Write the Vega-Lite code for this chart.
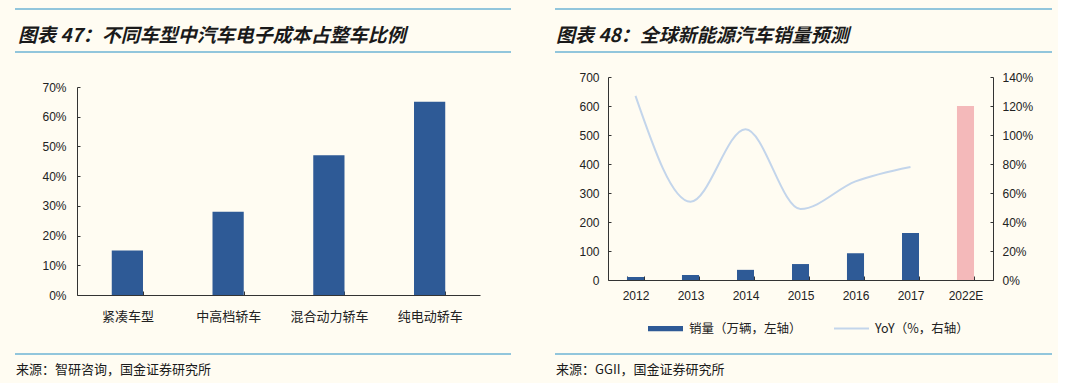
{
  "$schema": "https://vega.github.io/schema/vega-lite/v6.json",
  "background": "#FFFCF2",
  "padding": {"left": 14, "top": 8, "right": 5, "bottom": 0},
  "config": {
    "view": {"stroke": null},
    "axis": {
      "grid": false,
      "domainColor": "#333333",
      "tickColor": "#333333",
      "labelColor": "#222222",
      "labelFont": "Liberation Sans",
      "labelFontSize": 12,
      "title": null
    }
  },
  "resolve": {"legend": {"color": "independent"}, "scale": {"color": "independent"}},
  "hconcat": [
    {
      "spacing": 28,
      "vconcat": [
        {
          "width": 403,
          "height": 43,
          "data": {"values": [{"label": "图表 47：不同车型中汽车电子成本占整车比例"}]},
          "encoding": {
            "x": {"datum": -62, "type": "quantitative", "scale": {"domain": [0, 403], "nice": false, "zero": false}, "axis": null}
          },
          "layer": [
            {"mark": {"type": "rule", "color": "#92C6DC", "strokeWidth": 2},
             "encoding": {"x2": {"datum": 434}, "y": {"datum": 1, "type": "quantitative", "scale": {"domain": [0, 1]}, "axis": null}}},
            {"mark": {"type": "rule", "color": "#92C6DC", "strokeWidth": 2},
             "encoding": {"x2": {"datum": 434}, "y": {"datum": 0, "type": "quantitative", "axis": null}}},
            {"mark": {"type": "text", "align": "left", "baseline": "middle", "font": "Noto Sans CJK SC", "fontSize": 19, "fontWeight": "bold", "fontStyle": "italic", "color": "#1a1a1a", "dx": 3},
             "encoding": {
               "text": {"field": "label"},
               "y": {"datum": 0.37, "type": "quantitative", "axis": null}
             }}
          ]
        },
        {
          "spacing": 30,
          "vconcat": [
            {
              "width": 403,
              "height": 208,
              "data": {"values": [
                {"type": "紧凑车型", "share": 0.15},
                {"type": "中高档轿车", "share": 0.28},
                {"type": "混合动力轿车", "share": 0.47},
                {"type": "纯电动轿车", "share": 0.65}
              ]},
              "mark": {"type": "bar", "color": "#2E5A96"},
              "encoding": {
                "x": {"field": "type", "type": "nominal", "sort": null,
                      "scale": {"paddingInner": 0.69, "paddingOuter": 0.345},
                      "axis": {"labelAngle": 0, "tickBand": "extent", "tickSize": -4, "labelFont": "Noto Sans CJK SC", "labelFontSize": 13, "labelPadding": 19}},
                "y": {"field": "share", "type": "quantitative",
                      "scale": {"domain": [0, 0.7]},
                      "axis": {"format": ".0%", "values": [0, 0.1, 0.2, 0.3, 0.4, 0.5, 0.6, 0.7], "tickSize": -3, "labelPadding": 14, "minExtent": 62}}
              }
            },
            {
              "width": 403,
              "height": 32,
              "data": {"values": [{"label": "来源：智研咨询，国金证券研究所"}]},
              "encoding": {
                "x": {"datum": -62, "type": "quantitative", "scale": {"domain": [0, 403], "nice": false, "zero": false}, "axis": null}
              },
              "layer": [
                {"mark": {"type": "rule", "color": "#92C6DC", "strokeWidth": 2},
                 "encoding": {"x2": {"datum": 434}, "y": {"datum": 1, "type": "quantitative", "scale": {"domain": [0, 1]}, "axis": null}}},
                {"mark": {"type": "text", "align": "left", "baseline": "middle", "font": "Noto Sans CJK SC", "fontSize": 13, "color": "#1a1a1a", "dx": 1},
                 "encoding": {
                   "text": {"field": "label"},
                   "y": {"datum": 0.5, "type": "quantitative", "axis": null}
                 }}
              ]
            }
          ]
        }
      ]
    },
    {
      "spacing": 18,
      "resolve": {"legend": {"color": "independent"}, "scale": {"color": "independent"}},
      "vconcat": [
        {
          "width": 385,
          "height": 43,
          "data": {"values": [{"label": "图表 48：全球新能源汽车销量预测"}]},
          "encoding": {
            "x": {"datum": -53, "type": "quantitative", "scale": {"domain": [0, 385], "nice": false, "zero": false}, "axis": null}
          },
          "layer": [
            {"mark": {"type": "rule", "color": "#92C6DC", "strokeWidth": 2},
             "encoding": {"x2": {"datum": 444}, "y": {"datum": 1, "type": "quantitative", "scale": {"domain": [0, 1]}, "axis": null}}},
            {"mark": {"type": "rule", "color": "#92C6DC", "strokeWidth": 2},
             "encoding": {"x2": {"datum": 444}, "y": {"datum": 0, "type": "quantitative", "axis": null}}},
            {"mark": {"type": "text", "align": "left", "baseline": "middle", "font": "Noto Sans CJK SC", "fontSize": 19, "fontWeight": "bold", "fontStyle": "italic", "color": "#1a1a1a", "dx": 1},
             "encoding": {
               "text": {"field": "label"},
               "y": {"datum": 0.37, "type": "quantitative", "axis": null}
             }}
          ]
        },
        {
          "spacing": 18,
          "resolve": {"legend": {"color": "independent"}, "scale": {"color": "independent"}},
          "vconcat": [
            {
              "width": 385,
              "height": 203,
              "data": {"values": [
                {"year": "2012", "sales": 10, "yoy": 1.27, "series": "销量（万辆，左轴）"},
                {"year": "2013", "sales": 17, "yoy": 0.54, "series": "销量（万辆，左轴）"},
                {"year": "2014", "sales": 35, "yoy": 1.04, "series": "销量（万辆，左轴）"},
                {"year": "2015", "sales": 55, "yoy": 0.49, "series": "销量（万辆，左轴）"},
                {"year": "2016", "sales": 92, "yoy": 0.68, "series": "销量（万辆，左轴）"},
                {"year": "2017", "sales": 162, "yoy": 0.78, "series": "销量（万辆，左轴）"},
                {"year": "2022E", "sales": 600, "yoy": null, "series": "销量预测"}
              ]},
              "encoding": {
                "x": {"field": "year", "type": "nominal", "sort": null,
                      "scale": {"paddingInner": 0.69, "paddingOuter": 0.345},
                      "axis": {"labelAngle": 0, "tickBand": "extent", "tickSize": -4, "labelPadding": 14}}
              },
              "layer": [
                {
                  "mark": {"type": "bar"},
                  "encoding": {
                    "y": {"field": "sales", "type": "quantitative",
                          "scale": {"domain": [0, 700]},
                          "axis": {"values": [0, 100, 200, 300, 400, 500, 600, 700], "tickSize": -3, "labelPadding": 12, "minExtent": 53}},
                    "color": {
                      "field": "series",
                      "type": "nominal",
                      "scale": {"domain": ["销量（万辆，左轴）", "YoY（%，右轴）", "销量预测"], "range": ["#2E5A96", "#C3D5EB", "#F4B9BA"]},
                      "legend": {
                        "values": ["销量（万辆，左轴）", "YoY（%，右轴）"],
                        "title": null,
                        "orient": "none",
                        "legendX": 40,
                        "legendY": 234,
                        "direction": "horizontal",
                        "columnPadding": 32,
                        "labelOffset": 6,
                        "labelFont": "Noto Sans CJK SC",
                        "labelFontSize": 12.5,
                        "labelColor": "#222222",
                        "symbolSize": 1225,
                        "symbolStrokeWidth": 0,
                        "symbolType": "M-1,-0.15L1,-0.15L1,0.15L-1,0.15Z",
                        "encode": {
                          "symbols": {
                            "update": {
                              "shape": {"signal": "datum.value === 'YoY（%，右轴）' ? 'M-1,-0.06L1,-0.06L1,0.06L-1,0.06Z' : 'M-1,-0.15L1,-0.15L1,0.15L-1,0.15Z'"},
                              "fill": {"signal": "datum.value === 'YoY（%，右轴）' ? '#C3D5EB' : '#2E5A96'"},
                              "stroke": {"value": "transparent"},
                              "strokeWidth": {"value": 0},
                              "opacity": {"value": 1}
                            }
                          }
                        }
                      }
                    }
                  }
                },
                {
                  "mark": {"type": "line", "interpolate": "monotone", "strokeWidth": 2},
                  "encoding": {
                    "y": {"field": "yoy", "type": "quantitative",
                          "scale": {"domain": [0, 1.4]},
                          "axis": {"orient": "right", "format": ".0%", "values": [0, 0.2, 0.4, 0.6, 0.8, 1.0, 1.2, 1.4], "tickSize": -3, "labelPadding": 12}},
                    "color": {"datum": "YoY（%，右轴）", "type": "nominal"}
                  }
                }
              ],
              "resolve": {"scale": {"y": "independent"}}
            },
            {
              "width": 385,
              "height": 32,
              "data": {"values": [{"label": "来源：GGII，国金证券研究所"}]},
              "encoding": {
                "x": {"datum": -53, "type": "quantitative", "scale": {"domain": [0, 385], "nice": false, "zero": false}, "axis": null}
              },
              "layer": [
                {"mark": {"type": "rule", "color": "#92C6DC", "strokeWidth": 2},
                 "encoding": {"x2": {"datum": 444}, "y": {"datum": 1, "type": "quantitative", "scale": {"domain": [0, 1]}, "axis": null}}},
                {"mark": {"type": "text", "align": "left", "baseline": "middle", "font": "Noto Sans CJK SC", "fontSize": 13, "color": "#1a1a1a", "dx": 1},
                 "encoding": {
                   "text": {"field": "label"},
                   "y": {"datum": 0.5, "type": "quantitative", "axis": null}
                 }}
              ]
            }
          ]
        }
      ]
    }
  ],
  "spacing": 42
}
